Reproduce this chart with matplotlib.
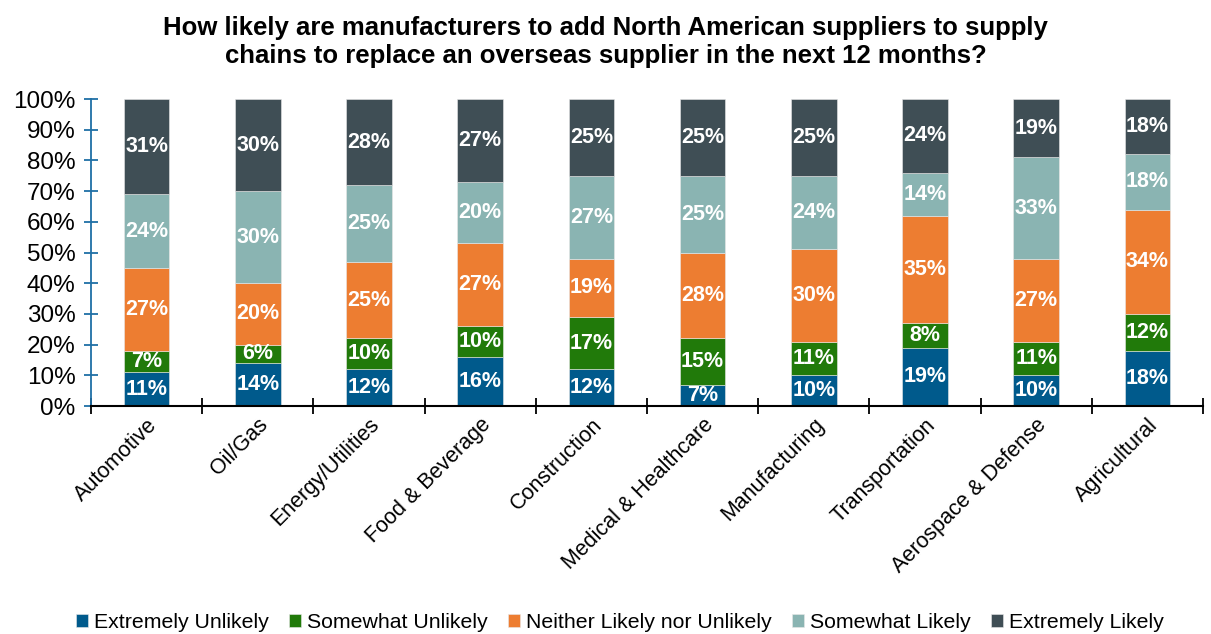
import matplotlib.pyplot as plt
import numpy as np
from matplotlib.ticker import PercentFormatter, FixedLocator

plt.rcParams['font.family'] = ['Liberation Sans', 'DejaVu Sans']

categories = ["Automotive", "Oil/Gas", "Energy/Utilities", "Food & Beverage",
              "Construction", "Medical & Healthcare", "Manufacturing",
              "Transportation", "Aerospace & Defense", "Agricultural"]

extremely_unlikely = [11, 14, 12, 16, 12, 7, 10, 19, 10, 18]
somewhat_unlikely = [7, 6, 10, 10, 17, 15, 11, 8, 11, 12]
neither = [27, 20, 25, 27, 19, 28, 30, 35, 27, 34]
somewhat_likely = [24, 30, 25, 20, 27, 25, 24, 14, 33, 18]
extremely_likely = [31, 30, 28, 27, 25, 25, 25, 24, 19, 18]

series = [
    ("Extremely Unlikely", extremely_unlikely, "#005A8C"),
    ("Somewhat Unlikely", somewhat_unlikely, "#217A0A"),
    ("Neither Likely nor Unlikely", neither, "#ED7D31"),
    ("Somewhat Likely", somewhat_likely, "#8AB4B2"),
    ("Extremely Likely", extremely_likely, "#3F4E55"),
]

fig = plt.figure(figsize=(12.11, 6.34), dpi=100)
ax = fig.add_axes([0.0751, 0.3596, 0.9183, 0.4842])

x = np.arange(len(categories))
bottom = np.zeros(len(categories))
for name, vals, col in series:
    vals = np.array(vals, dtype=float)
    ax.bar(x, vals, width=0.41, bottom=bottom, color=col, label=name,
           edgecolor='#E8E8E8', linewidth=0.4)
    for xi, b, v in zip(x, bottom, vals):
        ax.text(xi, b + v / 2, f"{int(v)}%", ha='center', va='center',
                color='white', fontsize=15.5, fontweight='bold')
    bottom += vals

ax.set_xlim(-0.5, len(categories) - 0.5)
ax.set_ylim(0, 100)
ax.yaxis.set_major_locator(FixedLocator(np.arange(0, 101, 10)))
ax.yaxis.set_major_formatter(PercentFormatter(decimals=0))

ax.set_xticks(x)
ax.set_xticklabels(categories, rotation=45, ha='right', rotation_mode='anchor',
                   fontsize=15.5)
ax.set_xticks(np.arange(-0.5, len(categories)), minor=True)
ax.tick_params(axis='x', which='major', length=0, pad=6)
ax.tick_params(axis='x', which='minor', direction='inout', length=12,
               width=1.3, color='black')
ax.tick_params(axis='y', direction='inout', length=10, width=1.3,
               color='#1F6FA6', labelsize=17.5, pad=6)

for s in ['top', 'right']:
    ax.spines[s].set_visible(False)
ax.spines['left'].set_color('#1F6FA6')
ax.spines['left'].set_linewidth(1.3)
ax.spines['bottom'].set_color('black')
ax.spines['bottom'].set_linewidth(1.5)

fig.suptitle("How likely are manufacturers to add North American suppliers to supply\n"
             "chains to replace an overseas supplier in the next 12 months?",
             fontsize=18.5, fontweight='bold', y=0.975, x=0.50, linespacing=1.2)

fig.legend(loc='lower center', bbox_to_anchor=(0.512, -0.027), ncol=5,
           frameon=False, fontsize=15.3, handlelength=0.55, handleheight=0.55,
           handletextpad=0.3, columnspacing=0.95)

fig.savefig("out.png", dpi=100)
